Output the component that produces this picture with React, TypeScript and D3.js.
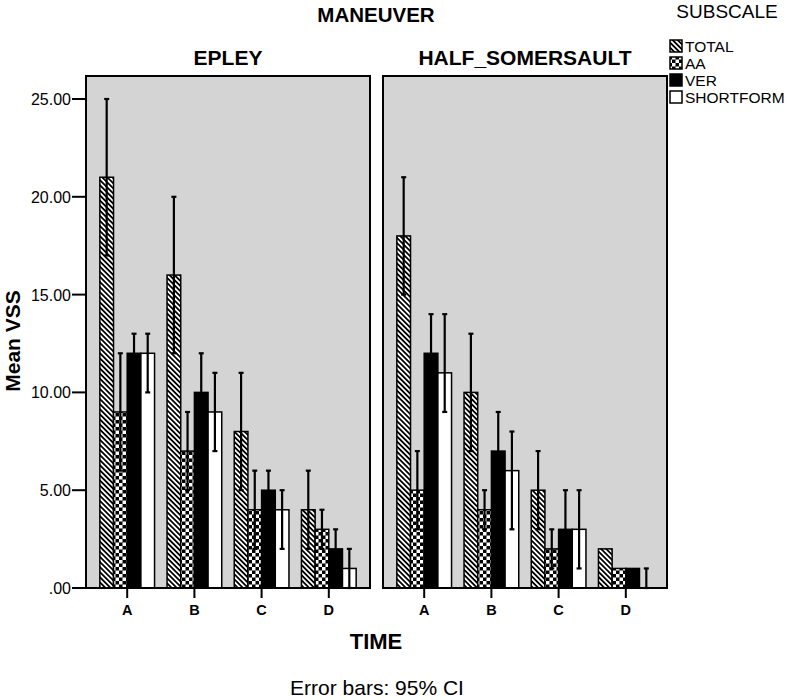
import React from 'react';
import * as d3 from 'd3';

const panels = ['EPLEY', 'HALF_SOMERSAULT'];
const times = ['A', 'B', 'C', 'D'];
const subscales = ['TOTAL', 'AA', 'VER', 'SHORTFORM'];
const yTicks = [0, 5, 10, 15, 20, 25];

// rows: TOTAL, AA, VER, SHORTFORM ; columns: A, B, C, D
const epleyMeans = [
  [21, 16, 8, 4],
  [9, 7, 4, 3],
  [12, 10, 5, 2],
  [12, 9, 4, 1],
];
const epleyLower = [
  [17, 12, 5, 2],
  [6, 5, 2, 2],
  [11, 8, 4, 1],
  [10, 7, 2, 0],
];
const epleyUpper = [
  [25, 20, 11, 6],
  [12, 9, 6, 4],
  [13, 12, 6, 3],
  [13, 11, 5, 2],
];
const halfMeans = [
  [18, 10, 5, 2],
  [5, 4, 2, 1],
  [12, 7, 3, 1],
  [11, 6, 3, 0],
];
const halfLower = [
  [15, 7, 3, 2],
  [3, 3, 1, 1],
  [10, 5, 1, 1],
  [9, 3, 1, 0],
];
const halfUpper = [
  [21, 13, 7, 2],
  [7, 5, 3, 1],
  [14, 9, 5, 1],
  [14, 8, 5, 1],
];

const panelData = [
  { means: epleyMeans, lower: epleyLower, upper: epleyUpper },
  { means: halfMeans, lower: halfLower, upper: halfUpper },
];

const FONT = '"Liberation Sans", Arial, Helvetica, sans-serif';
const fills = ['url(#hatch)', 'url(#checker)', '#000', '#fff'];

export default function App() {
  const W = 787, H = 700;
  const top = 76, bottom = 588;
  const panelRanges: [number, number][] = [[86, 370], [383, 667]];
  const y = d3.scaleLinear().domain([0, 25]).range([bottom, 99]);

  return (
    <svg width={W} height={H} style={{ position: 'absolute', left: 0, top: 0, background: '#fff' }} fontFamily={FONT}>
      <defs>
        <pattern id="hatch" width="3.6" height="3.6" patternUnits="userSpaceOnUse" patternTransform="rotate(-45)">
          <rect width="3.6" height="3.6" fill="#fff" />
          <rect width="1.8" height="3.6" fill="#000" />
        </pattern>
        <pattern id="checker" width="7" height="7" patternUnits="userSpaceOnUse">
          <rect width="7" height="7" fill="#000" />
          <rect width="3.5" height="3.5" fill="#fff" />
          <rect x="3.5" y="3.5" width="3.5" height="3.5" fill="#fff" />
        </pattern>
      </defs>

      <text x={376} y={22} textAnchor="middle" fontSize={20.5} fontWeight="bold">MANEUVER</text>

      {panels.map((name, p) => {
        const [x0r, x1r] = panelRanges[p];
        const x0 = d3.scaleBand<string>().domain(times).range([x0r, x1r]).paddingInner(0.186).paddingOuter(0.206);
        const x1 = d3.scaleBand<string>().domain(subscales).range([0, x0.bandwidth()]);
        const d = panelData[p];
        const bw = x1.bandwidth();
        return (
          <g key={name}>
            <text x={(x0r + x1r) / 2} y={65} textAnchor="middle" fontSize={21} fontWeight="bold">{name}</text>
            <rect x={x0r} y={top} width={x1r - x0r} height={bottom - top} fill="#d4d4d4" />
            {subscales.map((s, si) =>
              times.map((t, ti) => {
                const v = d.means[si][ti];
                const bx = (x0(t) as number) + (x1(s) as number);
                return (
                  <rect key={s + t} x={bx} y={y(v)} width={bw} height={y(0) - y(v)}
                    fill={fills[si]} stroke="#000" strokeWidth={1.5} />
                );
              })
            )}
            {subscales.map((s, si) =>
              times.map((t, ti) => {
                const lo = d.lower[si][ti], hi = d.upper[si][ti];
                if (hi === lo) return null;
                const cx = (x0(t) as number) + (x1(s) as number) + bw / 2;
                return (
                  <g key={'e' + s + t} stroke="#000" strokeWidth={2.2}>
                    <line x1={cx} x2={cx} y1={y(lo)} y2={y(hi)} />
                    <line x1={cx - 2.5} x2={cx + 2.5} y1={y(hi)} y2={y(hi)} />
                    <line x1={cx - 2.5} x2={cx + 2.5} y1={y(lo)} y2={y(lo)} />
                  </g>
                );
              })
            )}
            <rect x={x0r} y={top} width={x1r - x0r} height={bottom - top} fill="none" stroke="#000" strokeWidth={2} />
            {times.map((t) => {
              const cx = (x0(t) as number) + x0.bandwidth() / 2;
              return (
                <g key={'t' + t}>
                  <line x1={cx} x2={cx} y1={bottom} y2={598} stroke="#000" strokeWidth={2} />
                  <text x={cx} y={615} textAnchor="middle" fontSize={14.5} fontWeight="bold">{t}</text>
                </g>
              );
            })}
          </g>
        );
      })}

      {yTicks.map((v) => (
        <g key={'y' + v}>
          <line x1={72} x2={86} y1={y(v)} y2={y(v)} stroke="#000" strokeWidth={2} />
          <text x={71} y={y(v) + 6} textAnchor="end" fontSize={16}>{v === 0 ? '.00' : v.toFixed(2)}</text>
        </g>
      ))}

      <text transform={`translate(20,341) rotate(-90)`} textAnchor="middle" fontSize={21} fontWeight="bold">Mean VSS</text>
      <text x={376} y={649} textAnchor="middle" fontSize={22} fontWeight="bold">TIME</text>
      <text x={377} y={695} textAnchor="middle" fontSize={21}>Error bars: 95% CI</text>

      <text x={727} y={18} textAnchor="middle" fontSize={19}>SUBSCALE</text>
      {subscales.map((s, i) => (
        <g key={'l' + s}>
          <rect x={670} y={40 + i * 17} width={12} height={12} fill={fills[i]} stroke="#000" strokeWidth={1.5} />
          <text x={685} y={52 + i * 17} fontSize={15.5}>{s}</text>
        </g>
      ))}
    </svg>
  );
}
